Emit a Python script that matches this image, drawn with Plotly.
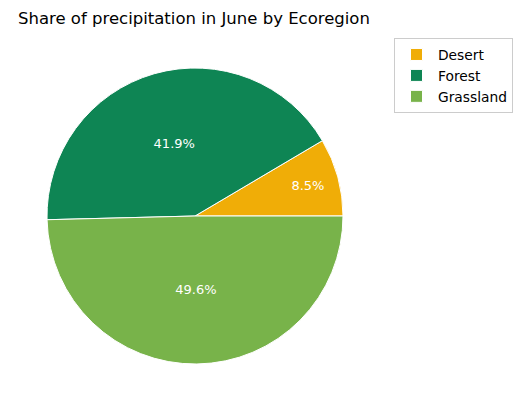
import plotly.graph_objects as go

ecoregions = ["Desert", "Forest", "Grassland"]
shares = [8.5, 41.9, 49.6]
colours = ["#F0AD07", "#0E8554", "#78B34A"]

# page body adds an 8px margin, so lay out in figure coordinates
OFF = 8
W, H = 523 - OFF, 411 - OFF
cx, cy, r = 195 - OFF, 216 - OFF, 148

# matplotlib-style start: first wedge begins at 3 o'clock, going counterclockwise
start = 90 - 360 * shares[0] / sum(shares)

fig = go.Figure(go.Pie(
    labels=ecoregions,
    values=shares,
    sort=False,
    direction="counterclockwise",
    rotation=start,
    marker=dict(colors=colours, line=dict(color="white", width=1)),
    texttemplate="%{percent:.1%}",
    textposition="inside",
    insidetextorientation="horizontal",
    textfont=dict(color="white", size=13, family="DejaVu Sans"),
    hoverinfo="label+percent",
    domain=dict(x=[(cx - r) / W, (cx + r) / W], y=[1 - (cy + r) / H, 1 - (cy - r) / H]),
))

fig.update_layout(
    width=W, height=H,
    margin=dict(l=0, r=0, t=0, b=0),
    paper_bgcolor="white", plot_bgcolor="white",
    font=dict(family="DejaVu Sans", color="black", size=13),
    title=dict(text="Share of precipitation in June by Ecoregion",
               x=(18 - OFF) / W, xanchor="left", y=1 - (18 - OFF) / H, yanchor="middle",
               font=dict(size=16.5)),
    legend=dict(x=(394 - OFF) / W, y=1 - (38 - OFF) / H, xanchor="left", yanchor="top",
                bordercolor="#cccccc", borderwidth=1,
                font=dict(size=13.8), itemwidth=33, tracegroupgap=0),
)

fig.write_html("out.html")
